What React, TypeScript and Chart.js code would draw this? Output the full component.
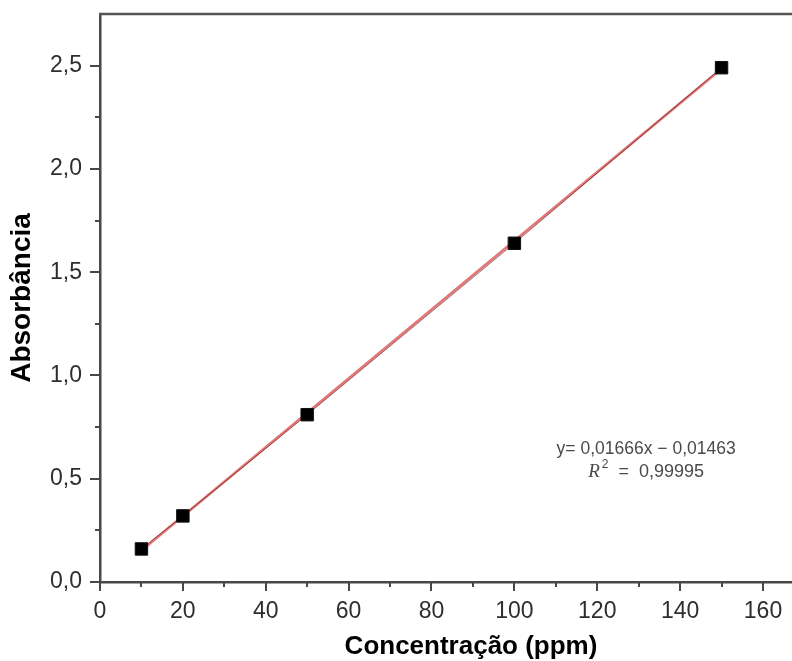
import React, { useEffect, useRef } from "react";
import { Chart, registerables } from "chart.js";

Chart.register(...registerables);

const concentrations = [10, 20, 50, 100, 150];
const absorbances = [0.16, 0.32, 0.81, 1.64, 2.49];
const fitSlope = 0.01666;
const fitIntercept = -0.01463;
const fitRange = [10, 150];
const xMajorTicks = [0, 20, 40, 60, 80, 100, 120, 140, 160];
const xMinorTicks = [10, 30, 50, 70, 90, 110, 130, 150];
const yMajorTicks = [0, 0.5, 1.0, 1.5, 2.0, 2.5];
const yMinorTicks = [0.25, 0.75, 1.25, 1.75, 2.25];
const equationText = "y= 0,01666x \u2212 0,01463";
const r2Value = "0,99995";
const xTitle = "Concentração (ppm)";
const yTitle = "Absorbância";

const AXIS_COLOR = "#484848";

const decorPlugin = {
  id: "decor",
  afterDraw(chart: any) {
    const ctx = chart.ctx;
    const xs = chart.scales.x;
    const ys = chart.scales.y;
    const area = chart.chartArea;
    ctx.save();
    // top border
    ctx.strokeStyle = "#555";
    ctx.lineWidth = 2.5;
    ctx.beginPath();
    ctx.moveTo(area.left - 1, area.top);
    ctx.lineTo(chart.width, area.top);
    ctx.stroke();
    // ticks
    ctx.strokeStyle = AXIS_COLOR;
    ctx.lineWidth = 2;
    const drawX = (vals: number[], len: number) => {
      vals.forEach((v) => {
        const px = Math.round(xs.getPixelForValue(v));
        ctx.beginPath();
        ctx.moveTo(px, area.bottom);
        ctx.lineTo(px, area.bottom + len);
        ctx.stroke();
      });
    };
    const drawY = (vals: number[], len: number) => {
      vals.forEach((v) => {
        const py = Math.round(ys.getPixelForValue(v));
        ctx.beginPath();
        ctx.moveTo(area.left, py);
        ctx.lineTo(area.left - len, py);
        ctx.stroke();
      });
    };
    drawX(xMajorTicks, 9);
    drawX(xMinorTicks, 5);
    drawY(yMajorTicks, 10);
    drawY(yMinorTicks, 5);

    // axis titles
    ctx.fillStyle = "#000";
    ctx.font = "bold 26px 'Liberation Sans', Arial, sans-serif";
    ctx.textAlign = "center";
    ctx.textBaseline = "middle";
    ctx.fillText(xTitle, 471, 647);
    ctx.save();
    ctx.translate(22, 298);
    ctx.rotate(-Math.PI / 2);
    ctx.font = "bold 28px 'Liberation Sans', Arial, sans-serif";
    ctx.fillText(yTitle, 0, 0);
    ctx.restore();

    // equation annotation
    const cx = xs.getPixelForValue(131.8);
    const y1 = ys.getPixelForValue(0.643);
    const y2 = ys.getPixelForValue(0.532);
    ctx.fillStyle = "#4a4a4a";
    ctx.font = "17.5px 'Liberation Sans', Arial, sans-serif";
    ctx.textAlign = "center";
    ctx.fillText(equationText, cx, y1);
    // R^2 line
    const fontMain = "18px 'Liberation Sans', Arial, sans-serif";
    const fontItal = "italic 19px 'Liberation Serif', 'DejaVu Serif', serif";
    const fontSup = "12px 'Liberation Sans', Arial, sans-serif";
    const rest = "  =  " + r2Value;
    ctx.font = fontItal;
    const wR = ctx.measureText("R").width;
    ctx.font = fontSup;
    const w2 = ctx.measureText("2").width;
    ctx.font = fontMain;
    const wRest = ctx.measureText(rest).width;
    const total = wR + w2 + 2 + wRest;
    let sx = cx - total / 2;
    ctx.textAlign = "left";
    ctx.font = fontItal;
    ctx.fillText("R", sx, y2);
    sx += wR + 2;
    ctx.font = fontSup;
    ctx.fillText("2", sx, y2 - 7);
    sx += w2;
    ctx.font = fontMain;
    ctx.fillText(rest, sx, y2);
    ctx.restore();
  },
};

export default function App() {
  const ref = useRef<HTMLCanvasElement | null>(null);
  useEffect(() => {
    if (!ref.current) return;
    const scatter = concentrations.map((x, i) => ({ x, y: absorbances[i] }));
    const fit = fitRange.map((x) => ({ x, y: fitSlope * x + fitIntercept }));
    const tickFont = { family: "'Liberation Sans', Arial, sans-serif", size: 23 };
    const chart = new Chart(ref.current, {
      type: "scatter",
      data: {
        datasets: [
          {
            type: "line",
            data: fit,
            borderColor: "rgba(225,110,110,0.95)",
            borderWidth: 2.6,
            pointRadius: 0,
            order: 3,
          } as any,
          {
            type: "line",
            data: scatter,
            borderColor: "rgba(90,20,20,0.75)",
            borderWidth: 0.8,
            pointRadius: 0,
            order: 2,
          } as any,
          {
            data: scatter,
            backgroundColor: "#000",
            borderColor: "#111",
            borderWidth: 1,
            pointStyle: "rect",
            pointRadius: 8.8,
            order: 1,
          },
        ],
      },
      options: {
        animation: false,
        responsive: false,
        devicePixelRatio: 1,
        layout: { autoPadding: false, padding: { top: 14, left: 0, right: 0, bottom: 0 } },
        plugins: { legend: { display: false }, tooltip: { enabled: false } },
        scales: {
          x: {
            type: "linear",
            min: 0,
            max: 167,
            afterBuildTicks: (s: any) => {
              s.ticks = xMajorTicks.map((v) => ({ value: v }));
            },
            afterFit: (s: any) => {
              s.height = 79;
              s.paddingLeft = 0;
              s.paddingRight = 0;
            },
            ticks: {
              font: tickFont,
              color: "#2e2e2e",
              padding: 16,
              maxRotation: 0,
              autoSkip: false,
              callback: (v: any) => String(v),
            },
            grid: { display: false, drawTicks: false },
            border: { display: true, color: AXIS_COLOR, width: 2.5 },
          },
          y: {
            type: "linear",
            min: 0,
            max: 2.75,
            afterBuildTicks: (s: any) => {
              s.ticks = yMajorTicks.map((v) => ({ value: v }));
            },
            afterFit: (s: any) => {
              s.width = 100;
              s.paddingTop = 0;
              s.paddingBottom = 0;
            },
            ticks: {
              font: tickFont,
              color: "#2e2e2e",
              padding: 18,
              autoSkip: false,
              callback: (v: any) => Number(v).toFixed(1).replace(".", ","),
            },
            grid: { display: false, drawTicks: false },
            border: { display: true, color: AXIS_COLOR, width: 2.5 },
          },
        },
      },
      plugins: [decorPlugin],
    });
    return () => chart.destroy();
  }, []);
  return (
    <div style={{ position: "fixed", left: 0, top: 0, width: 792, height: 661, background: "#fff", overflow: "hidden" }}>
      <canvas ref={ref} width={792} height={661} style={{ display: "block" }} />
    </div>
  );
}
